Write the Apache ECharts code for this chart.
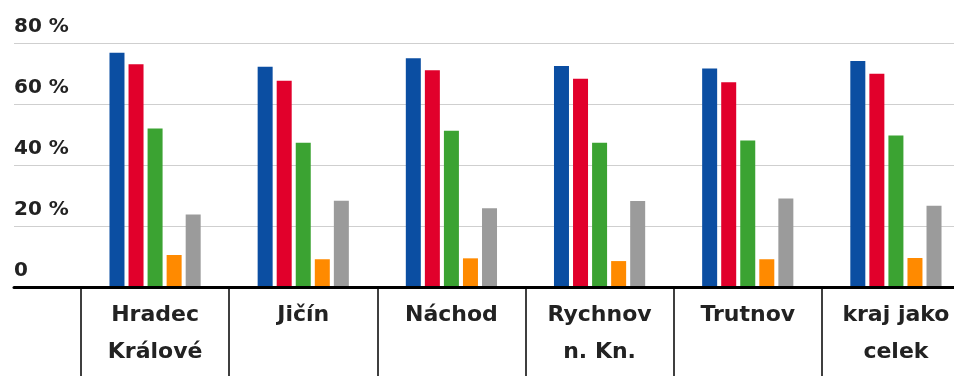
<!DOCTYPE html>
<html>
<head>
<meta charset="utf-8">
<script src="https://cdn.jsdelivr.net/npm/echarts@6/dist/echarts.min.js"></script>
<style>
  html, body { margin: 0; padding: 0; background: #fff; }
  #chart { width: 954px; height: 376px; }
</style>
</head>
<body>
<div id="chart"></div>
<script>
// kategorie (okresy)
var categories = ['Hradec\nKrálové', 'Jičín', 'Náchod', 'Rychnov\nn. Kn.', 'Trutnov', 'kraj jako\ncelek'];
// hodnoty v procentech
var blueValues   = [76.8, 72.2, 75.0, 72.5, 71.6, 74.1];
var redValues    = [73.0, 67.6, 71.1, 68.3, 67.1, 69.9];
var greenValues  = [52.0, 47.3, 51.2, 47.3, 48.0, 49.7];
var orangeValues = [10.5, 9.1, 9.4, 8.5, 9.1, 9.5];
var grayValues   = [23.8, 28.3, 25.8, 28.2, 29.0, 26.6];
var yTicks = [0, 20, 40, 60, 80];

var colors = ['#0b4ea2', '#e1002b', '#3ba332', '#ff8a00', '#9b9b9b'];
var font = 'DejaVu Sans';

var chart = echarts.init(document.getElementById('chart'));

function barSeries (data, i) {
  return {
    type: 'bar',
    xAxisIndex: 1,
    yAxisIndex: 1,
    data: data,
    barWidth: 15,
    barGap: '27%',
    itemStyle: { color: colors[i] },
    silent: true
  };
}

var option = {
  animation: false,
  grid: [
    // mřížka + osa y
    { left: 14, right: 0, top: 43, bottom: 89, outerBoundsMode: 'none', containLabel: false },
    // sloupce, poslední kategorie přesahuje pravý okraj
    { left: 81, width: 889, top: 43, bottom: 89, outerBoundsMode: 'none', containLabel: false }
  ],
  xAxis: [
    {
      type: 'category',
      gridIndex: 0,
      data: [''],
      axisTick: { show: false },
      axisLabel: { show: false },
      axisLine: { show: true, lineStyle: { color: '#000', width: 3 } },
      z: 5
    },
    {
      type: 'category',
      gridIndex: 1,
      data: categories,
      axisLine: { show: false },
      axisTick: {
        show: true,
        interval: 0,
        length: 90,
        lineStyle: { color: '#000', width: 1.5 }
      },
      axisLabel: {
        interval: 0,
        margin: 10,
        color: '#222',
        fontFamily: font,
        fontWeight: 'bold',
        fontSize: 22,
        lineHeight: 37,
        verticalAlign: 'top'
      }
    }
  ],
  yAxis: [
    {
      type: 'value',
      gridIndex: 0,
      min: yTicks[0],
      max: yTicks[yTicks.length - 1],
      interval: 20,
      axisLine: { show: false },
      axisTick: { show: false },
      splitLine: { show: true, lineStyle: { color: '#cfcfcf', width: 1 } },
      axisLabel: {
        inside: true,
        margin: 0,
        verticalAlign: 'bottom',
        padding: [0, 0, 6, 0],
        color: '#222',
        fontFamily: font,
        fontWeight: 'bold',
        fontSize: 20,
        formatter: function (v) { return v === 0 ? '0' : v + ' %'; }
      }
    },
    {
      type: 'value',
      gridIndex: 1,
      min: yTicks[0],
      max: yTicks[yTicks.length - 1],
      show: false
    }
  ],
  series: [
    barSeries(blueValues, 0),
    barSeries(redValues, 1),
    barSeries(greenValues, 2),
    barSeries(orangeValues, 3),
    barSeries(grayValues, 4)
  ]
};

chart.setOption(option);
</script>
</body>
</html>
